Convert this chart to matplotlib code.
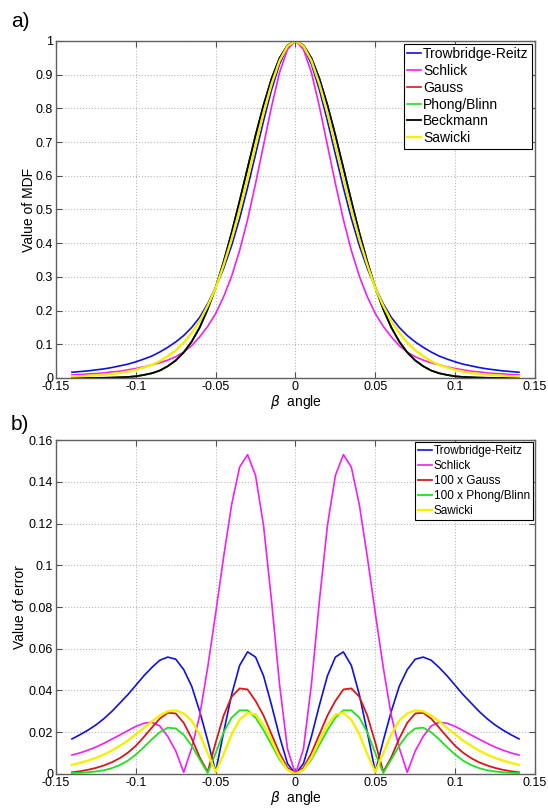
import numpy as np
import matplotlib
matplotlib.use('Agg')
import matplotlib.pyplot as plt

plt.rcParams['font.family'] = ['Liberation Sans', 'DejaVu Sans']
plt.rcParams['axes.unicode_minus'] = False

# beta angle sample points (-0.14 .. 0.14, step 0.005)
beta = np.round(np.arange(-140, 141, 5) / 1000.0, 3)

# a) MDF values
trowbridge = [0.017, 0.019, 0.021, 0.024, 0.027, 0.031, 0.036, 0.041, 0.048, 0.056, 0.065, 0.077, 0.091, 0.107,
              0.126, 0.150, 0.180, 0.220, 0.269, 0.325, 0.393, 0.473, 0.565, 0.664, 0.763, 0.855, 0.931, 0.982,
              1.0,
              0.982, 0.931, 0.855, 0.763, 0.664, 0.565, 0.473, 0.393, 0.325, 0.269, 0.220, 0.180, 0.150, 0.126,
              0.107, 0.091, 0.077, 0.065, 0.056, 0.048, 0.041, 0.036, 0.031, 0.027, 0.024, 0.021, 0.019, 0.017]
schlick = [0.009, 0.010, 0.012, 0.013, 0.015, 0.018, 0.020, 0.024, 0.028, 0.033, 0.039, 0.045, 0.053, 0.063,
           0.077, 0.096, 0.122, 0.153, 0.191, 0.241, 0.302, 0.378, 0.470, 0.577, 0.691, 0.805, 0.906, 0.975,
           1.0,
           0.975, 0.906, 0.805, 0.691, 0.577, 0.470, 0.378, 0.302, 0.241, 0.191, 0.153, 0.122, 0.096, 0.077,
           0.063, 0.053, 0.045, 0.039, 0.033, 0.028, 0.024, 0.020, 0.018, 0.015, 0.013, 0.012, 0.010, 0.009]
gauss = [0.0, 0.0001, 0.0001, 0.0003, 0.0005, 0.001, 0.002, 0.003, 0.005, 0.009, 0.014, 0.022, 0.035, 0.052,
         0.076, 0.108, 0.150, 0.204, 0.268, 0.345, 0.431, 0.525, 0.623, 0.720, 0.810, 0.888, 0.949, 0.987,
         1.0,
         0.987, 0.949, 0.888, 0.810, 0.720, 0.623, 0.525, 0.431, 0.345, 0.268, 0.204, 0.150, 0.108, 0.076,
         0.052, 0.035, 0.022, 0.014, 0.009, 0.005, 0.003, 0.002, 0.001, 0.0005, 0.0003, 0.0001, 0.0001, 0.0]
phong = [0.0, 0.0001, 0.0001, 0.0003, 0.0005, 0.001, 0.002, 0.003, 0.005, 0.009, 0.014, 0.022, 0.035, 0.052,
         0.076, 0.108, 0.150, 0.204, 0.268, 0.345, 0.431, 0.525, 0.623, 0.720, 0.810, 0.888, 0.949, 0.987,
         1.0,
         0.987, 0.949, 0.888, 0.810, 0.720, 0.623, 0.525, 0.431, 0.345, 0.268, 0.204, 0.150, 0.108, 0.076,
         0.052, 0.035, 0.022, 0.014, 0.009, 0.005, 0.003, 0.002, 0.001, 0.0005, 0.0003, 0.0001, 0.0001, 0.0]
beckmann = [0.0, 0.0001, 0.0001, 0.0003, 0.0005, 0.001, 0.002, 0.003, 0.005, 0.009, 0.014, 0.022, 0.035, 0.052,
            0.076, 0.108, 0.150, 0.204, 0.268, 0.345, 0.431, 0.525, 0.623, 0.720, 0.810, 0.888, 0.949, 0.987,
            1.0,
            0.987, 0.949, 0.888, 0.810, 0.720, 0.623, 0.525, 0.431, 0.345, 0.268, 0.204, 0.150, 0.108, 0.076,
            0.052, 0.035, 0.022, 0.014, 0.009, 0.005, 0.003, 0.002, 0.001, 0.0005, 0.0003, 0.0001, 0.0001, 0.0]
sawicki = [0.0044, 0.0053, 0.0065, 0.008, 0.010, 0.012, 0.015, 0.019, 0.024, 0.031, 0.039, 0.050, 0.065, 0.082,
           0.105, 0.134, 0.169, 0.214, 0.267, 0.335, 0.412, 0.499, 0.593, 0.691, 0.787, 0.872, 0.941, 0.985,
           1.0,
           0.985, 0.941, 0.872, 0.787, 0.691, 0.593, 0.499, 0.412, 0.335, 0.267, 0.214, 0.169, 0.134, 0.105,
           0.082, 0.065, 0.050, 0.039, 0.031, 0.024, 0.019, 0.015, 0.012, 0.010, 0.008, 0.0065, 0.0053, 0.0044]

# b) error values
err_trowbridge = [0.0168, 0.0188, 0.021, 0.0235, 0.0265, 0.030, 0.034, 0.038, 0.0425, 0.047, 0.051, 0.0545, 0.056,
                  0.055, 0.050, 0.042, 0.030, 0.016, 0.001, 0.020, 0.038, 0.052, 0.0585, 0.056, 0.047, 0.033,
                  0.018, 0.005,
                  0.0,
                  0.005, 0.018, 0.033, 0.047, 0.056, 0.0585, 0.052, 0.038, 0.020, 0.001, 0.016, 0.030, 0.042,
                  0.050, 0.055, 0.056, 0.0545, 0.051, 0.047, 0.0425, 0.038, 0.034, 0.030, 0.0265, 0.0235, 0.021,
                  0.0188, 0.0168]
err_schlick = [0.0091, 0.0101, 0.0114, 0.0129, 0.0147, 0.0167, 0.0187, 0.0208, 0.0228, 0.0243, 0.0248, 0.023,
               0.018, 0.011, 0.0008, 0.0125, 0.028, 0.051, 0.077, 0.104, 0.129, 0.147, 0.153, 0.143, 0.119,
               0.083, 0.043, 0.012,
               0.0,
               0.012, 0.043, 0.083, 0.119, 0.143, 0.153, 0.147, 0.129, 0.104, 0.077, 0.051, 0.028, 0.0125,
               0.0008, 0.011, 0.018, 0.023, 0.0248, 0.0243, 0.0228, 0.0208, 0.0187, 0.0167, 0.0147, 0.0129,
               0.0114, 0.0101, 0.0091]
err_gauss = [0.0008, 0.0013, 0.002, 0.0029, 0.0041, 0.0056, 0.0076, 0.0102, 0.0135, 0.0177, 0.0222, 0.0265,
             0.0293, 0.029, 0.0245, 0.017, 0.008, 0.001, 0.015, 0.028, 0.037, 0.041, 0.0405, 0.035, 0.028,
             0.019, 0.010, 0.003,
             0.0,
             0.003, 0.010, 0.019, 0.028, 0.035, 0.0405, 0.041, 0.037, 0.028, 0.015, 0.001, 0.008, 0.017,
             0.0245, 0.029, 0.0293, 0.0265, 0.0222, 0.0177, 0.0135, 0.0102, 0.0076, 0.0056, 0.0041, 0.0029,
             0.002, 0.0013, 0.0008]
err_phong = [0.0005, 0.0006, 0.0008, 0.0012, 0.0018, 0.0028, 0.0043, 0.0064, 0.0093, 0.0128, 0.0166, 0.020,
             0.0222, 0.0218, 0.0188, 0.0135, 0.007, 0.0005, 0.010, 0.020, 0.027, 0.0305, 0.0305, 0.027, 0.021,
             0.014, 0.007, 0.002,
             0.0,
             0.002, 0.007, 0.014, 0.021, 0.027, 0.0305, 0.0305, 0.027, 0.020, 0.010, 0.0005, 0.007, 0.0135,
             0.0188, 0.0218, 0.0222, 0.020, 0.0166, 0.0128, 0.0093, 0.0064, 0.0043, 0.0028, 0.0018, 0.0012,
             0.0008, 0.0006, 0.0005]
err_sawicki = [0.0044, 0.0053, 0.0064, 0.0077, 0.0093, 0.0112, 0.0135, 0.016, 0.019, 0.022, 0.0252, 0.028,
               0.030, 0.0305, 0.029, 0.0255, 0.019, 0.010, 0.001, 0.0095, 0.019, 0.026, 0.0293, 0.0285, 0.0235,
               0.016, 0.008, 0.002,
               0.0,
               0.002, 0.008, 0.016, 0.0235, 0.0285, 0.0293, 0.026, 0.019, 0.0095, 0.001, 0.010, 0.019, 0.0255,
               0.029, 0.0305, 0.030, 0.028, 0.0252, 0.022, 0.019, 0.016, 0.0135, 0.0112, 0.0093, 0.0077,
               0.0064, 0.0053, 0.0044]

xticks = [-0.15, -0.1, -0.05, 0, 0.05, 0.1, 0.15]
xtick_labels = ['-0.15', '-0.1', '-0.05', '0', '0.05', '0.1', '0.15']
yticks_a = [0, 0.1, 0.2, 0.3, 0.4, 0.5, 0.6, 0.7, 0.8, 0.9, 1]
ytick_labels_a = ['0', '0.1', '0.2', '0.3', '0.4', '0.5', '0.6', '0.7', '0.8', '0.9', '1']
yticks_b = [0, 0.02, 0.04, 0.06, 0.08, 0.1, 0.12, 0.14, 0.16]
ytick_labels_b = ['0', '0.02', '0.04', '0.06', '0.08', '0.1', '0.12', '0.14', '0.16']

c_blue = '#1010e0'
c_mag = '#f020f0'
c_red = '#d81818'
c_green = '#20e020'
c_black = '#000000'
c_yel = '#f4f000'


def style_axes(ax, yticks, ylabels, ylim, ylabel, ypad):
    ax.set_xlim(-0.15, 0.15)
    ax.set_ylim(*ylim)
    ax.set_xticks(xticks)
    ax.set_xticklabels(xtick_labels)
    ax.set_yticks(yticks)
    ax.set_yticklabels(ylabels)
    ax.tick_params(direction='in', top=True, right=True, length=4, width=0.8,
                   color='#505050', labelsize=9, pad=2)
    for s in ax.spines.values():
        s.set_color('#606060')
        s.set_linewidth(1.0)
    ax.grid(True, linestyle=':', color='#b8b8b8', linewidth=0.8)
    ax.set_axisbelow(True)
    ax.set_xlabel(r'$\beta$  angle', fontsize=10, labelpad=0)
    ax.set_ylabel(ylabel, fontsize=10, labelpad=ypad)


fig = plt.figure(figsize=(5.48, 8.08), dpi=100)
ax1 = fig.add_axes([0.1022, 0.5322, 0.874, 0.4171])
ax2 = fig.add_axes([0.1022, 0.0421, 0.874, 0.4133])

# a)
ax1.plot(beta, trowbridge, color=c_blue, lw=1.2, label='Trowbridge-Reitz')
ax1.plot(beta, schlick, color=c_mag, lw=1.2, label='Schlick')
ax1.plot(beta, gauss, color=c_red, lw=1.2, label='Gauss')
ax1.plot(beta, phong, color=c_green, lw=1.2, label='Phong/Blinn')
ax1.plot(beta, beckmann, color=c_black, lw=1.3, label='Beckmann')
ax1.plot(beta, sawicki, color=c_yel, lw=1.7, label='Sawicki')
style_axes(ax1, yticks_a, ytick_labels_a, (0, 1), 'Value of MDF', 0)
leg1 = ax1.legend(loc='upper right', fontsize=10, handlelength=1.0, handletextpad=0.15,
                  labelspacing=0.2, borderpad=0.25, borderaxespad=0.2, fancybox=False,
                  edgecolor='black', framealpha=1)
leg1.get_frame().set_linewidth(0.8)

# b)
ax2.plot(beta, err_trowbridge, color=c_blue, lw=1.2, label='Trowbridge-Reitz')
ax2.plot(beta, err_schlick, color=c_mag, lw=1.2, label='Schlick')
ax2.plot(beta, err_gauss, color=c_red, lw=1.3, label='100 x Gauss')
ax2.plot(beta, err_phong, color=c_green, lw=1.3, label='100 x Phong/Blinn')
ax2.plot(beta, err_sawicki, color=c_yel, lw=1.7, label='Sawicki')
style_axes(ax2, yticks_b, ytick_labels_b, (0, 0.16), 'Value of error', 1)
leg2 = ax2.legend(loc='upper right', fontsize=8.5, handlelength=1.2, handletextpad=0.15,
                  labelspacing=0.25, borderpad=0.25, borderaxespad=0.2, fancybox=False,
                  edgecolor='black', framealpha=1)
leg2.get_frame().set_linewidth(0.8)

fig.text(0.02, 0.985, 'a)', fontsize=15, va='top', ha='left')
fig.text(0.02, 0.486, 'b)', fontsize=15, va='top', ha='left')

fig.savefig('out.png', dpi=100)
